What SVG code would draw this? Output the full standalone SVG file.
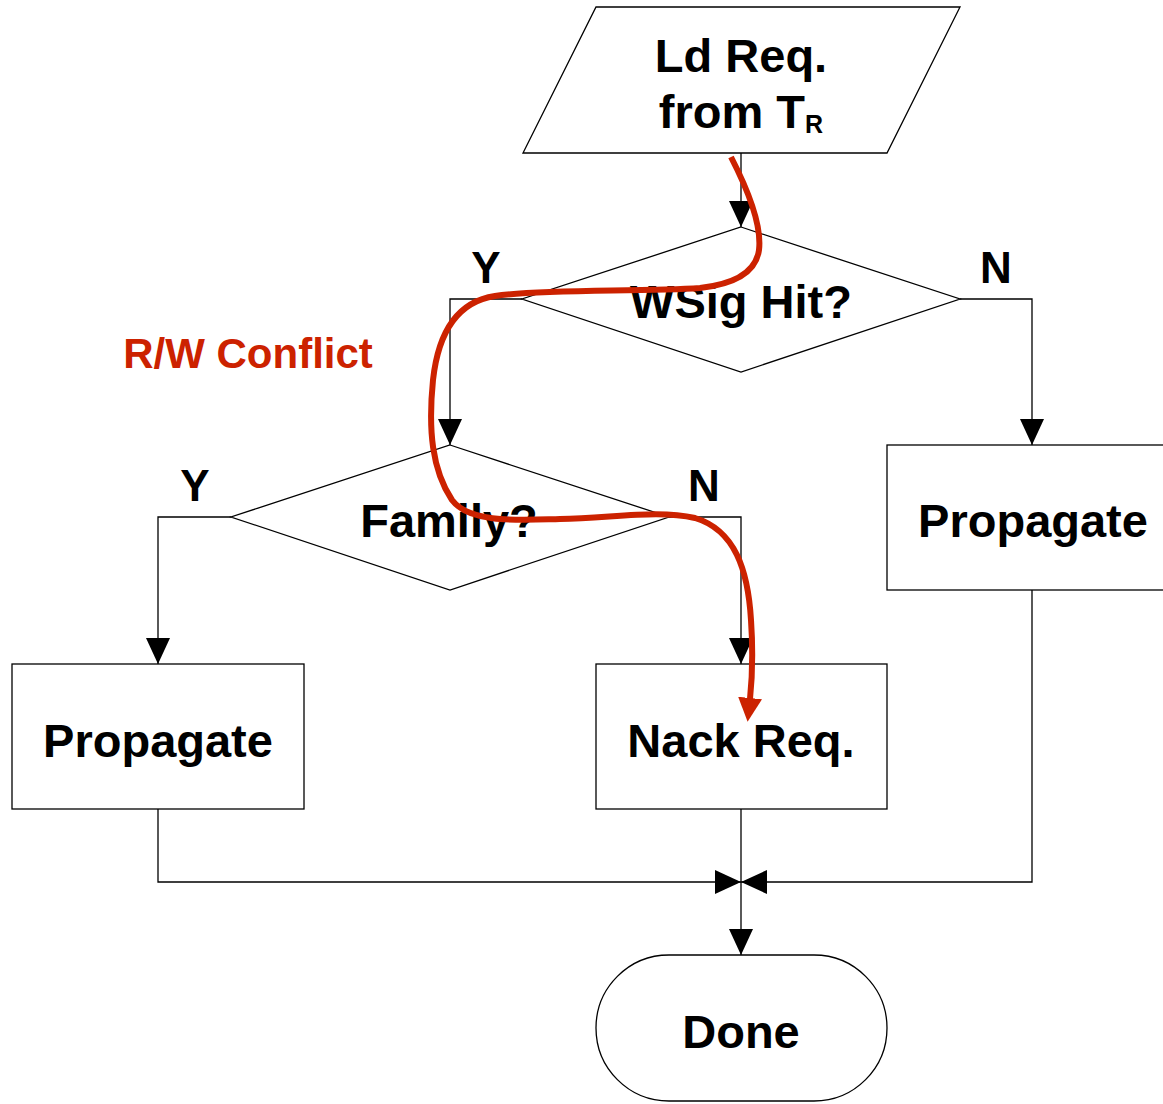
<svg xmlns="http://www.w3.org/2000/svg" width="1163" height="1104" viewBox="0 0 1163 1104">
<style>
.shape{fill:#fff;stroke:#000;stroke-width:1.3}
.lbl{font-family:"Liberation Sans",Arial,sans-serif;font-weight:bold;font-size:47px;fill:#000;text-anchor:middle}
.yn{font-family:"Liberation Sans",Arial,sans-serif;font-weight:bold;font-size:44px;fill:#000;text-anchor:middle}
.conn{fill:none;stroke:#000;stroke-width:1.3}
.red{fill:none;stroke:#CC2200;stroke-width:6;stroke-linecap:butt}
</style>
<defs>
<marker id="arr" markerUnits="userSpaceOnUse" viewBox="0 0 26 24" refX="26" refY="12" markerWidth="26" markerHeight="24" orient="auto">
<path d="M0,0 L26,12 L0,24 z" fill="#000"/>
</marker>
<marker id="redarr" markerUnits="userSpaceOnUse" viewBox="0 0 24 24" refX="1" refY="12" markerWidth="24" markerHeight="24" orient="auto">
<path d="M0,0 L24,12 L0,24 z" fill="#CC2200"/>
</marker>
</defs>
<rect width="1163" height="1104" fill="#fff"/>
<g id="connectors">
<path class="conn" d="M741 153 V227" marker-end="url(#arr)"/>
<path class="conn" d="M522 299 H450 V445" marker-end="url(#arr)"/>
<path class="conn" d="M960 299 H1032 V445" marker-end="url(#arr)"/>
<path class="conn" d="M231 517 H158 V664" marker-end="url(#arr)"/>
<path class="conn" d="M669 517 H741 V664" marker-end="url(#arr)"/>
<path class="conn" d="M158 809 V882 H741" marker-end="url(#arr)"/>
<path class="conn" d="M1032 590 V882 H741" marker-end="url(#arr)"/>
<path class="conn" d="M741 809 V955" marker-end="url(#arr)"/>
<text class="yn" x="486" y="283">Y</text>
<text class="yn" x="996" y="283">N</text>
<text class="yn" x="195" y="501">Y</text>
<text class="yn" x="704" y="501">N</text>
</g>
<g id="ld-req">
<polygon class="shape" points="596,7 960,7 887,153 523,153"/>
<text class="lbl" x="741" y="72">Ld Req.</text>
<text class="lbl" x="741" y="128">from T<tspan font-size="25" dy="5">R</tspan></text>
</g>
<g id="wsig-hit">
<polygon class="shape" points="741,227 960,299 741,372 522,299"/>
<text class="lbl" x="741" y="318">WSig Hit?</text>
</g>
<g id="family">
<polygon class="shape" points="450,445 669,517 450,590 231,517"/>
<text class="lbl" x="449" y="537">Family?</text>
</g>
<g id="propagate-right">
<rect class="shape" x="887" y="445" width="291" height="145"/>
<text class="lbl" x="1033" y="537">Propagate</text>
</g>
<g id="propagate-left">
<rect class="shape" x="12" y="664" width="292" height="145"/>
<text class="lbl" x="158" y="757">Propagate</text>
</g>
<g id="nack-req">
<rect class="shape" x="596" y="664" width="291" height="145"/>
<text class="lbl" x="741" y="757">Nack Req.</text>
</g>
<g id="done">
<rect class="shape" x="596" y="955" width="291" height="146" rx="73" ry="73"/>
<text class="lbl" x="741" y="1048">Done</text>
</g>
<g id="rw-conflict">
<text x="248" y="368" font-family="'Liberation Sans',Arial,sans-serif" font-weight="bold" font-size="42" fill="#CC2200" text-anchor="middle">R/W Conflict</text>
<path class="red" d="M731 157 C748 190,762 225,759 250 C756 272,735 284,700 288 C640 292,540 289,495 296 C455 302,438 335,433 380 C428 430,432 470,452 500 C470 524,520 520,560 519 C620 517,660 510,695 518 C735 530,748 570,751 620 C753 650,752 680,750 699" marker-end="url(#redarr)"/>
</g>
</svg>
